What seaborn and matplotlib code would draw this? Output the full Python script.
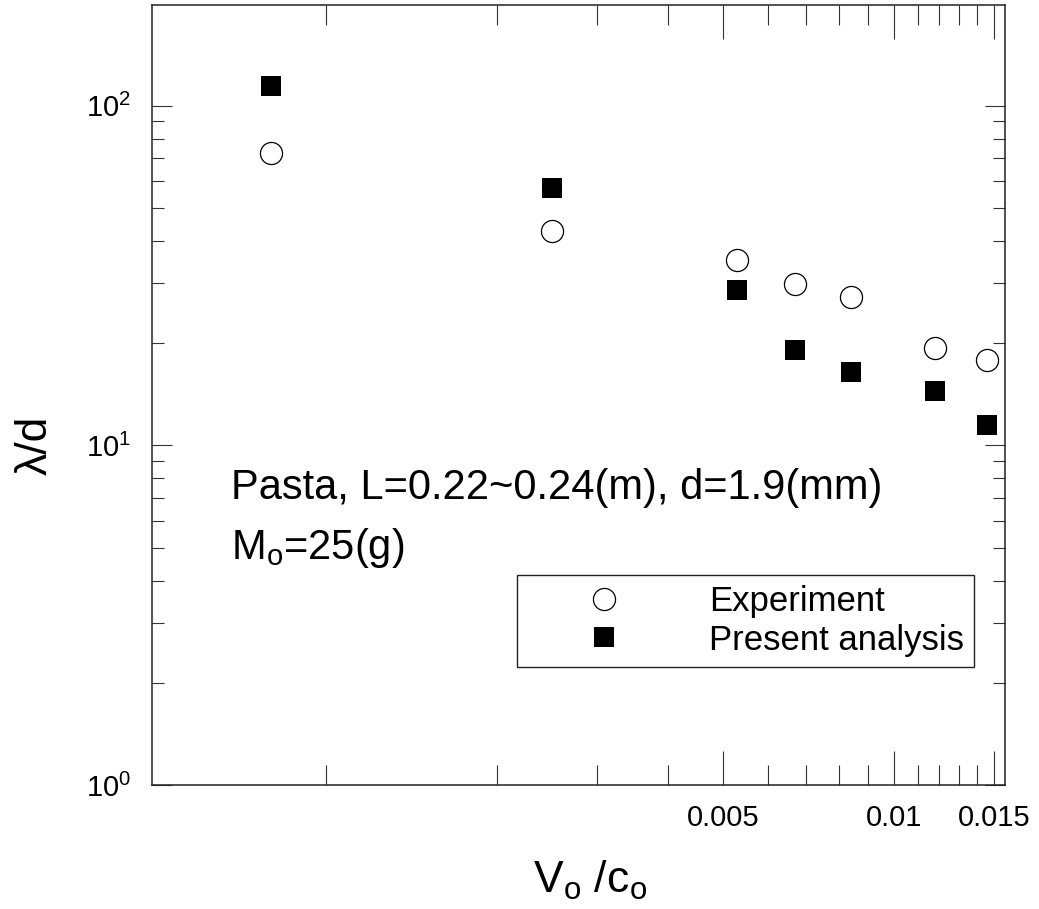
import numpy as np
import pandas as pd
import matplotlib
matplotlib.use('Agg')
import matplotlib.pyplot as plt
import seaborn as sns
from matplotlib.ticker import FixedLocator, FixedFormatter, NullFormatter, LogLocator

# ---- data ----
vo_co = [0.0008, 0.0025, 0.0053, 0.0067, 0.0084, 0.0118, 0.0146]
experiment = [72.7, 42.8, 35.2, 29.9, 27.4, 19.4, 17.9]
present = [114.5, 57.4, 28.7, 19.1, 16.5, 14.5, 11.5]
series_names = ['Experiment', 'Present analysis']

x_major = [0.005, 0.01, 0.015]
x_major_labels = ['0.005', '0.01', '0.015']
x_minor = [0.001, 0.002, 0.003, 0.004, 0.006, 0.007, 0.008, 0.009,
           0.011, 0.012, 0.013, 0.014]
y_major = [1, 10, 100]
y_major_labels = [r'$10^{0}$', r'$10^{1}$', r'$10^{2}$']

sns.set_style('ticks')
plt.rcParams['font.family'] = ['Liberation Sans', 'DejaVu Sans']
plt.rcParams['mathtext.fontset'] = 'custom'
plt.rcParams['mathtext.rm'] = 'Liberation Sans'
plt.rcParams['mathtext.it'] = 'Liberation Sans'
plt.rcParams['mathtext.bf'] = 'Liberation Sans:bold'
for k in ['text.color', 'axes.labelcolor', 'xtick.labelcolor', 'ytick.labelcolor']:
    plt.rcParams[k] = 'black'

W, H = 1039, 909
fig = plt.figure(figsize=(W / 100, H / 100), dpi=100)
ax = fig.add_axes([152 / W, 1 - 785 / H, (1005 - 152) / W, (785 - 5) / H])

df_exp = pd.DataFrame({'x': vo_co, 'y': experiment})
df_pre = pd.DataFrame({'x': vo_co, 'y': present})

sns.scatterplot(data=df_exp, x='x', y='y', marker='o', s=253, color='white',
                edgecolor='black', linewidth=0.9, label=series_names[0],
                ax=ax, zorder=3)
sns.scatterplot(data=df_pre, x='x', y='y', marker='s', s=228, color='black',
                edgecolor='black', linewidth=0, label=series_names[1],
                ax=ax, zorder=3)

ax.set_xscale('log')
ax.set_yscale('log')
ax.set_xlim(0.000494, 0.01568)
ax.set_ylim(1, 198)

ax.xaxis.set_major_locator(FixedLocator(x_major))
ax.xaxis.set_major_formatter(FixedFormatter(x_major_labels))
ax.xaxis.set_minor_locator(FixedLocator(x_minor))
ax.xaxis.set_minor_formatter(NullFormatter())
ax.yaxis.set_major_locator(FixedLocator(y_major))
ax.yaxis.set_major_formatter(FixedFormatter(y_major_labels))
ax.yaxis.set_minor_locator(LogLocator(base=10, subs=np.arange(2, 10)))
ax.yaxis.set_minor_formatter(NullFormatter())

ax.tick_params(which='both', direction='in', top=True, right=True,
               color='#333333', width=0.8, labelsize=21, labelcolor='black')
ax.tick_params(axis='x', which='major', length=24.5, pad=14)
ax.tick_params(axis='x', which='minor', length=14.4)
ax.tick_params(axis='y', which='major', length=14.4, pad=15)
ax.tick_params(axis='y', which='minor', length=8.6)

for sp in ax.spines.values():
    sp.set_linewidth(1.1)
    sp.set_color('#222222')

ax.set_xlabel(r'$\mathregular{V_o\ /c_o}$', fontsize=32, color='black')
ax.set_ylabel('λ/d', fontsize=32, color='black')
ax.xaxis.set_label_coords(0.513, -0.095)
ax.yaxis.set_label_coords(-0.113, 0.436)

ax.text(0.0926, 0.3667, 'Pasta, L=0.22~0.24(m), d=1.9(mm)', transform=ax.transAxes,
        fontsize=30, ha='left', va='baseline', color='black')
ax.text(0.0926, 0.2897, r'$\mathregular{M_o}$=25(g)', transform=ax.transAxes,
        fontsize=30, ha='left', va='baseline', color='black')

leg = ax.legend(loc='upper left', bbox_to_anchor=(0.4279, 0.2692), borderaxespad=0,
                fontsize=25, frameon=True, fancybox=False, framealpha=1,
                edgecolor='#222222', borderpad=0.3, handlelength=4.41,
                handletextpad=0.82, labelspacing=0.15, scatteryoffsets=[0.5])
leg.get_frame().set_linewidth(1.0)
for t in leg.get_texts():
    t.set_color('black')

fig.savefig('out.png', dpi=100)
